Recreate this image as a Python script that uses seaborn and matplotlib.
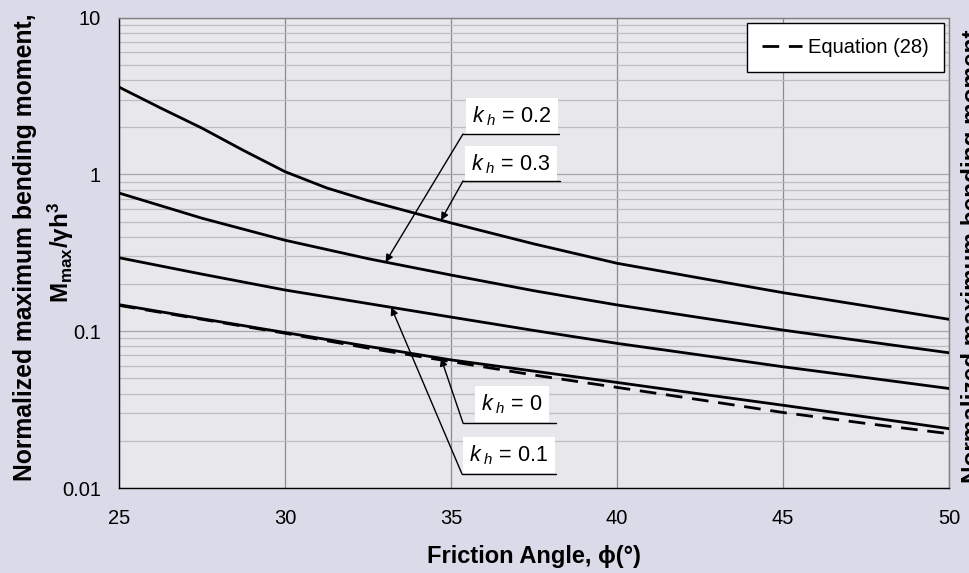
import numpy as np
import pandas as pd
import matplotlib
matplotlib.use("Agg")
import matplotlib.pyplot as plt
import seaborn as sns

# ---------------- data ----------------
phi = [25, 27.5, 30, 32.5, 35, 37.5, 40, 42.5, 45, 47.5, 50]
phi_kh03 = [25, 26.25, 27.5, 28.75, 30, 31.25, 32.5, 35, 37.5, 40, 42.5, 45, 47.5, 50]
m_kh03 = [3.6, 2.65, 1.97, 1.42, 1.04, 0.82, 0.68, 0.49, 0.36, 0.271, 0.218, 0.176, 0.145, 0.119]
m_kh02 = [0.76, 0.525, 0.38, 0.29, 0.228, 0.181, 0.147, 0.122, 0.1016, 0.086, 0.0728]
m_kh01 = [0.294, 0.231, 0.183, 0.150, 0.123, 0.101, 0.0836, 0.0705, 0.0593, 0.0506, 0.0431]
m_kh00 = [0.1475, 0.120, 0.098, 0.080, 0.0656, 0.0556, 0.0471, 0.0398, 0.0337, 0.0284, 0.0239]
m_eq28 = [0.146, 0.119, 0.097, 0.078, 0.064, 0.0525, 0.0438, 0.0365, 0.0303, 0.0258, 0.0222]

x_ticks = [25, 30, 35, 40, 45, 50]
y_ticks = [0.01, 0.1, 1, 10]
y_tick_labels = ["0.01", "0.1", "1", "10"]

legend_label = "Equation (28)"
x_label = "Friction Angle, \u03d5(\u00b0)"
y_label_1 = "Normalized maximum bending moment,"
y_label_2 = r"$\mathbf{M_{max}/\gamma h^{3}}$"

# ---------------- style ----------------
sns.set_theme(style="white")
plt.rcParams["font.family"] = ["Liberation Sans", "DejaVu Sans"]
plt.rcParams["mathtext.fontset"] = "custom"
plt.rcParams["mathtext.rm"] = "Liberation Sans"
plt.rcParams["mathtext.it"] = "Liberation Sans:italic"
plt.rcParams["mathtext.bf"] = "Liberation Sans:bold"
for k in ["text.color", "axes.labelcolor", "xtick.color", "ytick.color"]:
    plt.rcParams[k] = "black"

W, H = 969, 573
fig = plt.figure(figsize=(W / 100, H / 100), dpi=100, facecolor="#dadae8")
ax_l, ax_r, ax_t, ax_b = 119, 949, 17.5, 488
ax = fig.add_axes([ax_l / W, 1 - ax_b / H, (ax_r - ax_l) / W, (ax_b - ax_t) / H])
ax.set_facecolor("#e7e7ec")

series = [
    (phi_kh03, m_kh03),
    (phi, m_kh02),
    (phi, m_kh01),
    (phi, m_kh00),
]
for xs, ys in series:
    sns.lineplot(x=xs, y=ys, ax=ax, color="black", lw=2.0, legend=False, zorder=4)
sns.lineplot(x=phi, y=m_eq28, ax=ax, color="black", lw=2.0, zorder=3,
             label=legend_label, linestyle=(0, (6, 3.5)))

ax.set_yscale("log")
ax.set_xlim(25, 50)
ax.set_ylim(0.01, 10)
ax.set_xticks(x_ticks)
ax.set_xticklabels([str(t) for t in x_ticks])
ax.set_yticks(y_ticks)
ax.set_yticklabels(y_tick_labels)
ax.yaxis.set_minor_locator(matplotlib.ticker.LogLocator(base=10, subs=np.arange(2, 10)))
ax.yaxis.set_minor_formatter(matplotlib.ticker.NullFormatter())

ax.tick_params(axis="both", which="major", direction="out", length=5, width=1,
               color="black", labelsize=14.5, labelcolor="black")
ax.tick_params(axis="x", pad=10)
ax.tick_params(axis="y", pad=8)
ax.tick_params(axis="y", which="minor", length=0)

ax.grid(True, axis="x", which="major", color="#8c8c8c", lw=0.9)
ax.grid(True, axis="y", which="major", color="#a8a8a8", lw=0.9)
ax.grid(True, axis="y", which="minor", color="#bdbdbd", lw=0.9)
ax.set_axisbelow(True)

for side in ["left", "bottom"]:
    ax.spines[side].set_color("black")
    ax.spines[side].set_linewidth(1.0)
for side in ["top", "right"]:
    ax.spines[side].set_color("#808080")
    ax.spines[side].set_linewidth(1.0)

ax.set_xlabel(x_label, fontsize=17, fontweight="bold", labelpad=12, color="black")
ax.set_ylabel("")

fig.text(25 / W, 1 - 247 / H, y_label_1, rotation=90, ha="center", va="center",
         fontsize=17.8, fontweight="bold", color="black")
fig.text(61 / W, 1 - 252 / H, y_label_2, rotation=90, ha="center", va="center",
         fontsize=17.5, color="black")
# duplicate label that the reference shows cut by the right edge
fig.text(973 / W, 1 - 256 / H, "Normalized maximum bending moment", rotation=90,
         ha="center", va="center", fontsize=17.5, fontweight="bold", color="black")

leg = ax.legend(loc="upper right", bbox_to_anchor=(0.994, 0.988), borderaxespad=0,
                frameon=True, fancybox=False, framealpha=1, edgecolor="black",
                facecolor="white", fontsize=14.5, handlelength=2.0,
                handletextpad=0.3, borderpad=0.75)
leg.get_frame().set_linewidth(1.0)
for t in leg.get_texts():
    t.set_color("black")


# ---------------- annotations ----------------
def fx(px):
    return (px - ax_l) / (ax_r - ax_l)


def fy(py):
    return (ax_b - py) / (ax_b - ax_t)


def tip(xs, ys, at):
    return at, 10 ** np.interp(at, xs, np.log10(ys))


labels = [
    # text, series, tip phi, text centre px, underline y, underline x0, x1
    (r"$k_{\ h}$ = 0.2", (phi, m_kh02), 33.03, (512, 116), 134, 463, 559),
    (r"$k_{\ h}$ = 0.3", (phi_kh03, m_kh03), 34.70, (511, 164), 181, 463, 560),
    (r"$k_{\ h}$ = 0", (phi, m_kh00), 34.70, (512, 404), 423, 463, 556),
    (r"$k_{\ h}$ = 0.1", (phi, m_kh01), 33.20, (509, 455), 474, 462, 556),
]
for txt, (xs, ys), at, (cx, cy), uy, ux0, ux1 in labels:
    ax.text(fx(cx), fy(cy), txt, transform=ax.transAxes, ha="center", va="center",
            fontsize=15.5, zorder=6, color="black",
            bbox=dict(boxstyle="square,pad=0.28", fc="white", ec="none"))
    ax.plot([fx(ux0), fx(ux1)], [fy(uy), fy(uy)], transform=ax.transAxes,
            color="black", lw=1.0, zorder=7, clip_on=False)
    ax.annotate("", xy=tip(xs, ys, at), xycoords="data",
                xytext=(fx(ux0), fy(uy)), textcoords="axes fraction",
                arrowprops=dict(arrowstyle="-|>", color="black", lw=1.0,
                                mutation_scale=11, shrinkA=0, shrinkB=0),
                zorder=7)

fig.savefig("out.png", dpi=100, facecolor=fig.get_facecolor())
